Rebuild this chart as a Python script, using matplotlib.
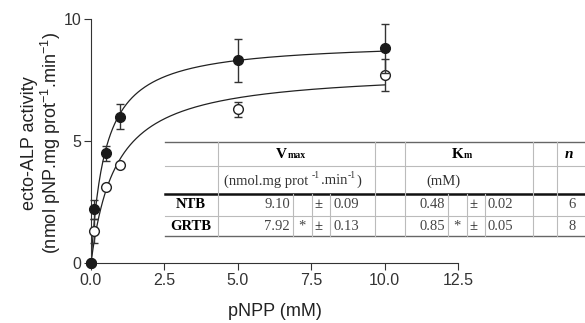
import numpy as np
import matplotlib.pyplot as plt

plt.rcParams['font.family'] = ['Liberation Sans', 'DejaVu Sans']
plt.rcParams['mathtext.fontset'] = 'custom'
plt.rcParams['mathtext.rm'] = 'Liberation Sans'

# data
conc = [0, 0.1, 0.5, 1, 5, 10]
ntb = [0, 2.2, 4.5, 6.0, 8.3, 8.8]
ntb_err = [0, 0.4, 0.3, 0.5, 0.9, 1.0]
grtb = [0, 1.3, 3.1, 4.0, 6.3, 7.7]
grtb_err = [0, 0.5, 0, 0, 0.3, 0.65]

# kinetic parameters (table)
groups = ['NTB', 'GRTB']
vmax = [9.10, 7.92]
vmax_sd = [0.09, 0.13]
km = [0.48, 0.85]
km_sd = [0.02, 0.05]
sig = ['', '*']
n_val = [6, 8]

fig = plt.figure(figsize=(5.85, 3.23), dpi=100)
ax = fig.add_axes([91/585, 60/323, 367/585, 244/323])

xs = np.linspace(0, 10, 300)
for v, k in zip(vmax, km):
    ax.plot(xs, v*xs/(k + xs), color='#222222', lw=0.9, zorder=2)

ax.errorbar(conc, grtb, yerr=grtb_err, fmt='o', mfc='white', mec='#222222', ms=7,
            mew=1, ecolor='#333333', elinewidth=1, capsize=3, capthick=1, clip_on=False, zorder=3)
ax.errorbar(conc, ntb, yerr=ntb_err, fmt='o', mfc='#1a1a1a', mec='#1a1a1a', ms=7,
            ecolor='#333333', elinewidth=1, capsize=3, capthick=1, clip_on=False, zorder=4)

ax.set_xlim(0, 12.5)
ax.set_ylim(0, 10)
ax.set_xticks([0, 2.5, 5, 7.5, 10, 12.5])
ax.set_xticklabels(['0.0', '2.5', '5.0', '7.5', '10.0', '12.5'])
ax.set_yticks([0, 5, 10])
for s in ['top', 'right']:
    ax.spines[s].set_visible(False)
for s in ['left', 'bottom']:
    ax.spines[s].set_color('#333333')
ax.tick_params(colors='#333333', labelcolor='#333333', labelsize=11.5, length=5, pad=2)
ax.set_xlabel('pNPP (mM)', fontsize=13, color='#222222')
ax.set_ylabel('ecto-ALP activity\n(nmol pNP.mg prot$^{-1}$.min$^{-1}$)', fontsize=13,
              color='#222222', linespacing=1.05)
ax.xaxis.set_label_coords((275 - 91) / 367, -40 / 244)
ax.yaxis.set_label_coords(-28 / 367, (263 - 143) / 244)

# table drawn in pixel coordinates
tb = fig.add_axes([0, 0, 1, 1], zorder=5)
tb.set_xlim(0, 585)
tb.set_ylim(323, 0)
tb.axis('off')
tb.patch.set_alpha(0)

x0, x1 = 165, 584
rows = [142, 166, 194, 216, 236]
cols = [218, 293, 312, 330, 375, 405, 448, 467, 485, 533, 557]
grid = '#bbbbbb'
for y in rows[1:-1]:
    tb.plot([x0, x1], [y, y], color=grid, lw=0.8)
tb.plot([x0, x1], [rows[0], rows[0]], color='#666666', lw=1)
tb.plot([x0, x1], [rows[-1], rows[-1]], color='#666666', lw=1)
tb.plot([x0, x1], [194, 194], color='#111111', lw=1.8)
for c in cols:
    if c in (293, 312, 330, 448, 467, 485):
        tb.plot([c, c], [194, 236], color=grid, lw=0.8)
    else:
        tb.plot([c, c], [142, 236], color=grid, lw=0.8)

ser = 'Liberation Serif'
tb.text(287, 155, 'V', fontfamily=ser, fontweight='bold', fontsize=11, ha='right', va='center')
tb.text(288, 156, 'max', fontfamily=ser, fontweight='bold', fontsize=7, ha='left', va='center')
tb.text(464, 155, 'K', fontfamily=ser, fontweight='bold', fontsize=11, ha='right', va='center')
tb.text(464, 156, 'm', fontfamily=ser, fontweight='bold', fontsize=7, ha='left', va='center')
tb.text(569, 155, 'n', fontfamily=ser, fontweight='bold', fontstyle='italic', fontsize=11,
        ha='center', va='center')

# units row, superscripts as separate small texts
ux = 224
for part, sup in [('(nmol.mg prot ', '-1'), ('.min', '-1'), (')', '')]:
    t = tb.text(ux, 181, part, fontfamily=ser, fontsize=10.5, ha='left', va='center', color='#333333')
    fig.canvas.draw()
    bb = t.get_window_extent()
    ux = bb.x1
    if sup:
        s = tb.text(ux, 176, sup, fontfamily=ser, fontsize=7, ha='left', va='center', color='#333333')
        fig.canvas.draw()
        ux = s.get_window_extent().x1 + 1
tb.text(443, 181, '(mM)', fontfamily=ser, fontsize=10.5, ha='center', va='center', color='#333333')

for i, g in enumerate(groups):
    yc = (rows[2 + i] + rows[3 + i]) / 2
    tb.text(191, yc, g, fontfamily=ser, fontweight='bold', fontsize=10.5, ha='center', va='center')
    tb.text(290, yc, f'{vmax[i]:.2f}', fontfamily=ser, fontsize=10.5, ha='right', va='center', color='#444444')
    tb.text(302, yc, sig[i], fontfamily=ser, fontsize=10.5, ha='center', va='center', color='#444444')
    tb.text(318, yc, '±', fontfamily=ser, fontsize=10.5, ha='center', va='center', color='#222222')
    tb.text(333, yc, f'{vmax_sd[i]:.2f}', fontfamily=ser, fontsize=10.5, ha='left', va='center', color='#444444')
    tb.text(445, yc, f'{km[i]:.2f}', fontfamily=ser, fontsize=10.5, ha='right', va='center', color='#444444')
    tb.text(457, yc, sig[i], fontfamily=ser, fontsize=10.5, ha='center', va='center', color='#444444')
    tb.text(473, yc, '±', fontfamily=ser, fontsize=10.5, ha='center', va='center', color='#222222')
    tb.text(487, yc, f'{km_sd[i]:.2f}', fontfamily=ser, fontsize=10.5, ha='left', va='center', color='#444444')
    tb.text(572, yc, str(n_val[i]), fontfamily=ser, fontsize=10.5, ha='center', va='center', color='#444444')

fig.savefig('out.png', dpi=100)
